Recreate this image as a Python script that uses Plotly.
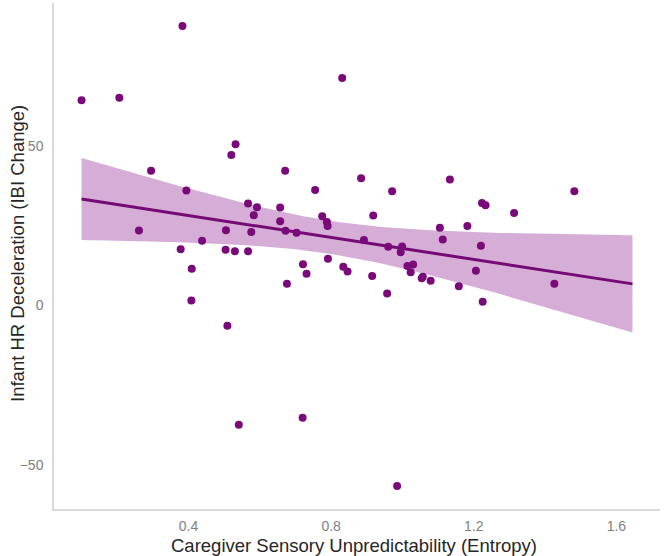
import numpy as np
import plotly.graph_objects as go

# Caregiver sensory unpredictability (entropy) and infant HR deceleration (IBI change)
entropy = [
    0.100, 0.206, 0.383, 0.831,
    0.532, 0.520, 0.295, 0.394, 0.567, 0.592, 0.583, 0.261, 0.505, 0.576,
    0.438, 0.378, 0.504, 0.530, 0.567, 0.409, 0.408, 0.509,
    0.671, 0.755, 0.884, 0.971, 1.133, 0.657, 0.657, 0.775, 0.788, 0.790,
    0.918, 0.672, 0.703, 0.892, 0.960, 0.999, 0.995, 1.105, 1.113, 0.791,
    0.721, 0.731, 0.834, 0.846, 0.915, 1.014, 1.030, 1.023, 1.054, 1.057,
    1.079, 0.676, 0.957, 1.158,
    1.482, 1.223, 1.233, 1.313, 1.182, 1.220, 1.206, 1.426, 1.225,
    0.541, 0.720, 0.985,
]
ibi_change = [
    64.4, 65.2, 87.7, 71.4,
    50.6, 47.2, 42.3, 36.1, 32.0, 30.8, 28.3, 23.5, 23.6, 23.0,
    20.3, 17.6, 17.5, 17.0, 17.0, 11.5, 1.5, -6.4,
    42.3, 36.2, 39.9, 35.8, 39.5, 30.7, 26.4, 28.0, 26.2, 24.9,
    28.2, 23.4, 22.8, 20.5, 18.4, 18.5, 16.7, 24.4, 20.7, 14.6,
    12.9, 9.9, 12.1, 10.6, 9.2, 12.4, 12.8, 10.4, 8.5, 9.0,
    7.7, 6.8, 3.7, 6.0,
    35.8, 32.1, 31.4, 29.0, 24.9, 18.7, 10.9, 6.8, 1.1,
    -37.5, -35.3, -56.7,
]
fit_domain = [0.100, 1.645]   # x extent of the fitted smooth
x_ticks = [0.4, 0.8, 1.2, 1.6]
y_ticks = [-50, 0, 50]
x_title = "Caregiver Sensory Unpredictability (Entropy)"
y_title = "Infant HR Deceleration (IBI Change)"
T_975 = 1.9966  # t quantile, df = n - 2

x = np.array(entropy)
y = np.array(ibi_change)
n = len(x)
slope, intercept = np.polyfit(x, y, 1)
resid = y - (intercept + slope * x)
s = np.sqrt(np.sum(resid ** 2) / (n - 2))
xbar = x.mean()
sxx = np.sum((x - xbar) ** 2)

xs = np.linspace(fit_domain[0], fit_domain[1], 80)
yhat = intercept + slope * xs
se = s * np.sqrt(1.0 / n + (xs - xbar) ** 2 / sxx)
upper = yhat + T_975 * se
lower = yhat - T_975 * se

# axis ranges with 5% expansion
xr = [min(x.min(), fit_domain[0]), max(x.max(), fit_domain[1])]
yr = [y.min(), y.max()]
xpad = 0.05 * (xr[1] - xr[0])
ypad = 0.05 * (yr[1] - yr[0])

fig = go.Figure()
fig.add_trace(go.Scatter(
    x=np.concatenate([xs, xs[::-1]]), y=np.concatenate([upper, lower[::-1]]),
    fill="toself", fillcolor="rgba(128,0,128,0.32)", line=dict(width=0),
    mode="lines", hoverinfo="skip", showlegend=False))
fig.add_trace(go.Scatter(
    x=xs, y=yhat, mode="lines", line=dict(color="#740a74", width=3),
    showlegend=False))
fig.add_trace(go.Scatter(
    x=entropy, y=ibi_change, mode="markers",
    marker=dict(color="#7a0a7a", size=8), showlegend=False))

axis_font = dict(family="Liberation Sans, Arial, sans-serif", size=14, color="#808080")
title_font = dict(family="Liberation Sans, Arial, sans-serif", size=18.5, color="#262626")

fig.update_layout(
    width=665, height=556,
    margin=dict(l=54, r=5, t=3, b=47),
    paper_bgcolor="white", plot_bgcolor="white",
    xaxis=dict(
        range=[xr[0] - xpad, xr[1] + xpad], tickvals=x_ticks,
        ticktext=[f"{v:.1f}" for v in x_ticks],
        showgrid=False, zeroline=False, showline=True, linecolor="#d9d9d9",
        linewidth=1.5, ticks="", tickfont=axis_font, ticklabelstandoff=3),
    yaxis=dict(
        range=[yr[0] - ypad, yr[1] + ypad], tickvals=y_ticks,
        showgrid=False, zeroline=False, showline=True, linecolor="#d9d9d9",
        linewidth=1.5, ticks="", tickfont=axis_font, ticklabelstandoff=6),
    annotations=[
        dict(text=x_title, xref="paper", yref="paper", x=0.495, y=-0.072,
             xanchor="center", yanchor="middle", showarrow=False, font=title_font),
        dict(text=y_title, xref="paper", yref="paper", x=-0.0594, y=0.504,
             xanchor="center", yanchor="middle", textangle=-90,
             showarrow=False, font=title_font),
    ],
)

fig.write_html("out.html")
